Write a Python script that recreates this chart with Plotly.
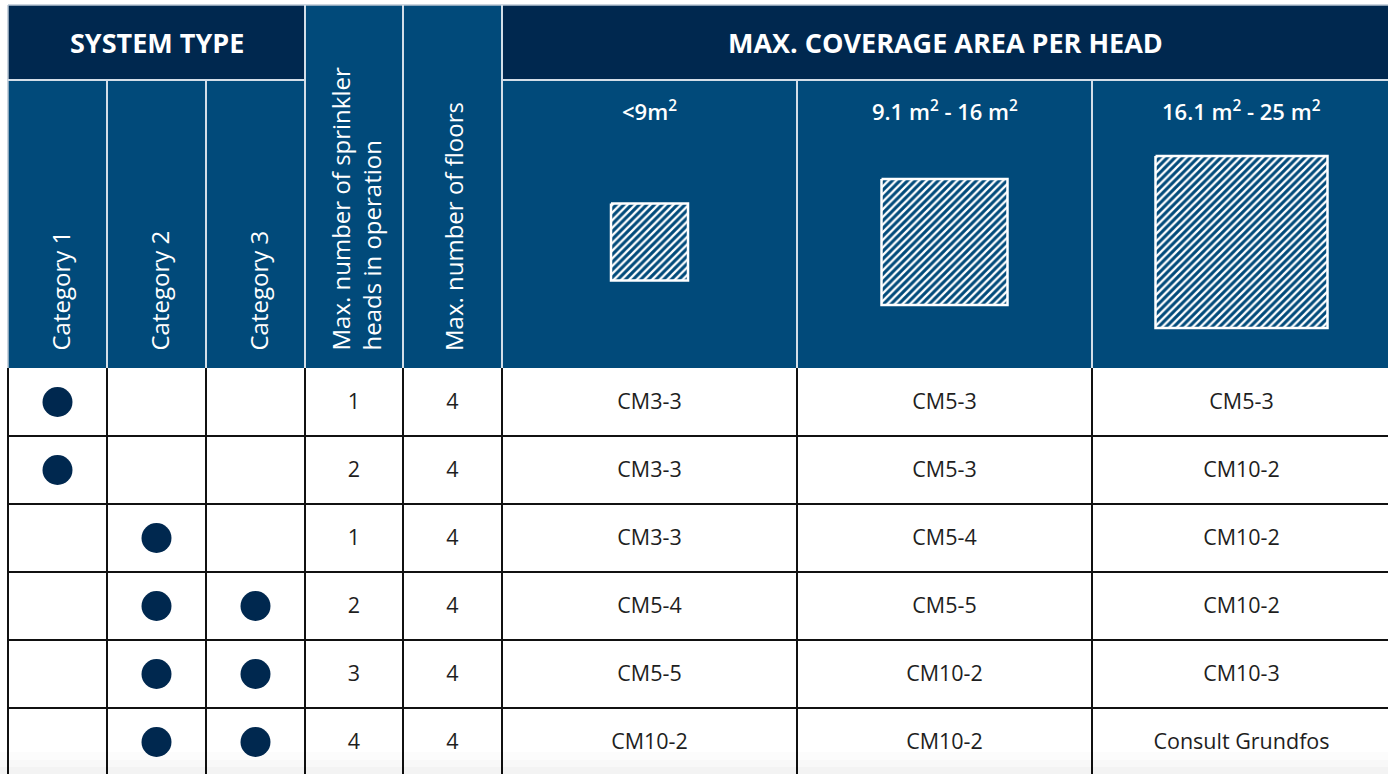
import plotly.graph_objects as go

# ---------------- data ----------------
group_titles = ["SYSTEM TYPE", "MAX. COVERAGE AREA PER HEAD"]
categories = ["Category 1", "Category 2", "Category 3"]
param_headers = ["Max. number of sprinkler<br>heads in operation", "Max. number of floors"]
area_labels = ["<9m<sup>2</sup>", "9.1 m<sup>2</sup> - 16 m<sup>2</sup>", "16.1 m<sup>2</sup> - 25 m<sup>2</sup>"]

cat_marks = [
    [1, 0, 0],
    [1, 0, 0],
    [0, 1, 0],
    [0, 1, 1],
    [0, 1, 1],
    [0, 1, 1],
]
max_heads = [1, 2, 1, 2, 3, 4]
max_floors = [4, 4, 4, 4, 4, 4]
pump_area_small = ["CM3-3", "CM3-3", "CM3-3", "CM5-4", "CM5-5", "CM10-2"]
pump_area_mid = ["CM5-3", "CM5-3", "CM5-4", "CM5-5", "CM10-2", "CM10-2"]
pump_area_large = ["CM5-3", "CM10-2", "CM10-2", "CM10-2", "CM10-3", "Consult Grundfos"]

# ---------------- layout geometry / styles ----------------
W, H = 1388, 774
col_edges = [8, 107, 206, 305, 403, 502, 797, 1092, 1391]
top_y, mid_y, head_bottom, row_h = 5, 80, 368, 68
n_rows = len(max_heads)
box_sides = [77, 126, 172]
box_cy = 242

NAVY = "#00284F"
BLUE = "#014A7A"
GRID = "#D3DEE8"
FONT = "Open Sans"
TXT = "#1E1E1E"

def cx(i):
    return (col_edges[i] + col_edges[i + 1]) / 2

def ry(r):
    return head_bottom + row_h * (r + 0.5)

shapes = []
shapes.append(dict(type="rect", x0=col_edges[0], x1=col_edges[-1], y0=top_y, y1=head_bottom,
                   fillcolor=BLUE, line=dict(width=0), layer="below"))
shapes.append(dict(type="rect", x0=col_edges[0], x1=col_edges[3], y0=top_y, y1=mid_y,
                   fillcolor=NAVY, line=dict(width=0), layer="below"))
shapes.append(dict(type="rect", x0=col_edges[5], x1=col_edges[-1], y0=top_y, y1=mid_y,
                   fillcolor=NAVY, line=dict(width=0), layer="below"))
hl = dict(color=GRID, width=2)
shapes.append(dict(type="line", x0=col_edges[0], x1=col_edges[-1], y0=top_y, y1=top_y, line=dict(color="#B8C6D3", width=1.5)))
shapes.append(dict(type="line", x0=col_edges[0], x1=col_edges[0], y0=top_y, y1=head_bottom, line=dict(color="#B8C6D3", width=1.5)))
shapes.append(dict(type="line", x0=col_edges[0], x1=col_edges[3], y0=mid_y, y1=mid_y, line=hl))
shapes.append(dict(type="line", x0=col_edges[5], x1=col_edges[-1], y0=mid_y, y1=mid_y, line=hl))
for i in [1, 2, 6, 7]:
    shapes.append(dict(type="line", x0=col_edges[i], x1=col_edges[i], y0=mid_y, y1=head_bottom, line=hl))
for i in [3, 4, 5]:
    shapes.append(dict(type="line", x0=col_edges[i], x1=col_edges[i], y0=top_y, y1=head_bottom, line=hl))
bl = dict(color="#111111", width=2)
for r in range(1, n_rows + 1):
    y = head_bottom + row_h * r
    shapes.append(dict(type="line", x0=col_edges[0], x1=col_edges[-1], y0=y, y1=y, line=bl))
for i in range(len(col_edges) - 1):
    shapes.append(dict(type="line", x0=col_edges[i], x1=col_edges[i], y0=head_bottom, y1=H + 5, line=bl))
for y0, a in [(752, 0.012), (760, 0.015), (767, 0.018)]:
    shapes.append(dict(type="rect", x0=0, x1=W, y0=y0, y1=H, fillcolor=f"rgba(0,0,0,{a})",
                       line=dict(width=0), layer="above"))

fig = go.Figure()

for k, side in enumerate(box_sides):
    c = cx(5 + k)
    h = side / 2
    fig.add_trace(go.Scatter(
        x=[c - h, c + h, c + h, c - h, c - h],
        y=[box_cy - h, box_cy - h, box_cy + h, box_cy + h, box_cy - h],
        mode="lines", fill="toself", fillcolor=BLUE,
        fillpattern=dict(shape="/", fgcolor="#FFFFFF", bgcolor=BLUE, fgopacity=1,
                         fillmode="replace", size=5.4, solidity=0.42),
        line=dict(color="white", width=2.5), hoverinfo="skip", showlegend=False))

dx, dy = [], []
for r, marks in enumerate(cat_marks):
    for c, m in enumerate(marks):
        if m:
            dx.append(cx(c))
            dy.append(ry(r))
fig.add_trace(go.Scatter(x=dx, y=dy, mode="markers",
                         marker=dict(size=30, color=NAVY, line=dict(width=0)),
                         hoverinfo="skip", showlegend=False))

tx, ty, tt = [], [], []
for c, col in enumerate([max_heads, max_floors, pump_area_small, pump_area_mid, pump_area_large]):
    for r, v in enumerate(col):
        tx.append(cx(3 + c))
        ty.append(ry(r) + 2)
        tt.append(str(v))
fig.add_trace(go.Scatter(x=tx, y=ty, text=tt, mode="text",
                         textfont=dict(family=FONT, size=21.5, color=TXT),
                         hoverinfo="skip", showlegend=False))

ann = []
ann.append(dict(x=(col_edges[0] + col_edges[3]) / 2, y=(top_y + mid_y) / 2, text=group_titles[0],
                font=dict(family=FONT, size=27, color="white", weight="bold"), showarrow=False))
ann.append(dict(x=(col_edges[5] + col_edges[-1]) / 2 - 1, y=(top_y + mid_y) / 2, text=group_titles[1],
                font=dict(family=FONT, size=27, color="white", weight="bold"), showarrow=False))
for i, t in enumerate(categories):
    ann.append(dict(x=cx(i) + 2, y=353, text=t, textangle=-90, yanchor="bottom", xanchor="center",
                    font=dict(family=FONT, size=24, color="white"), showarrow=False))
for i, t in enumerate(param_headers):
    ann.append(dict(x=cx(3 + i) + 1, y=353, text=t, textangle=-90, yanchor="bottom", xanchor="center",
                    align="left", font=dict(family=FONT, size=24, color="white"), showarrow=False))
for k, t in enumerate(area_labels):
    ann.append(dict(x=cx(5 + k), y=110, text=t, yanchor="middle",
                    font=dict(family=FONT, size=22, color="white", weight=600), showarrow=False))
for a in ann:
    a.update(xref="x", yref="y")

fig.update_layout(
    width=W, height=H, margin=dict(l=0, r=0, t=0, b=0),
    paper_bgcolor="white", plot_bgcolor="white",
    xaxis=dict(range=[0, W], visible=False, fixedrange=True),
    yaxis=dict(range=[H, 0], visible=False, fixedrange=True),
    shapes=shapes, annotations=ann, showlegend=False,
)
fig.write_html("out.html", config={"displayModeBar": False},
               post_script="document.body.style.margin='0px';document.body.style.overflow='hidden';")
